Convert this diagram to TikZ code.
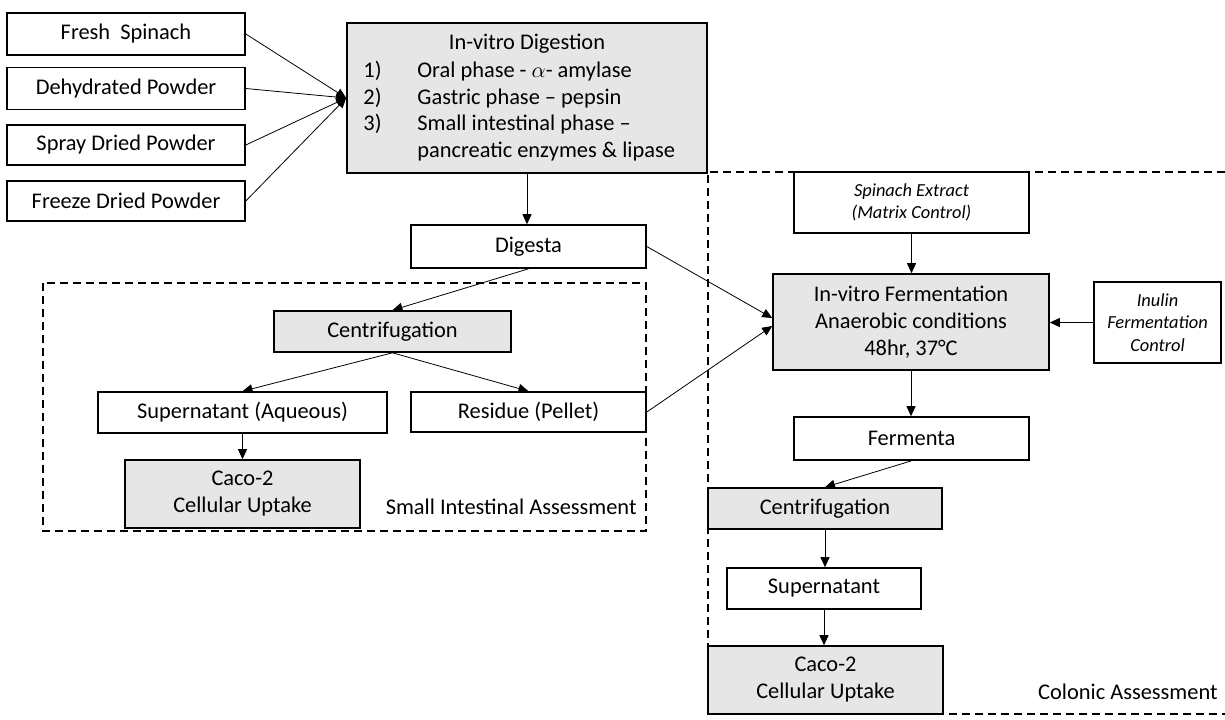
\documentclass[tikz,border=0pt]{standalone}
\usepackage{fontspec}
\setmainfont{Carlito}
\usepackage{amsmath}
\usetikzlibrary{arrows.meta}
\definecolor{boxgray}{HTML}{E6E6E6}

\begin{document}
\begin{tikzpicture}[x=0.5pt,y=-0.5pt,
  font=\fontsize{11.2}{13.5}\selectfont,
  plainbox/.style={draw,line width=0.8pt,inner sep=0pt,align=center},
  graybox/.style={plainbox,fill=boxgray},
  ctrlbox/.style={plainbox,font=\itshape\fontsize{9.2}{11.25}\selectfont},
  link/.style={-{Triangle[length=5pt,width=4.5pt]},line width=0.4pt},
  region/.style={dash pattern=on 4pt off 2.5pt,line width=0.8pt}]
  \useasboundingbox (0,0) rectangle (1225,719);

  % assessment regions
  \draw[region] (43,283) rectangle (646,531);
  \draw[region] (1225,172) -- (708,172) -- (708,714) -- (1225,714);
  \node[anchor=base east,inner sep=0pt] (silabel) at (637,514) {Small Intestinal Assessment};
  \node[anchor=base east,inner sep=0pt] (colabel) at (1218,699) {Colonic Assessment};

  % samples
  \node[plainbox,minimum width=119pt,minimum height=21pt] (fresh) at (126,34) {Fresh~ Spinach};
  \node[plainbox,minimum width=119pt,minimum height=21pt] (dehyd) at (126,88.5) {Dehydrated Powder};
  \node[plainbox,minimum width=119pt,minimum height=20pt] (spray) at (126,145) {Spray Dried Powder};
  \node[plainbox,minimum width=119pt,minimum height=20pt] (freeze) at (126,201) {Freeze Dried Powder};

  % digestion
  \node[graybox,minimum width=180pt,minimum height=75pt] (digest) at (527,98) {};
  \node[anchor=base,inner sep=0pt] (dtitle) at (527,49) {In-vitro Digestion};
  \foreach \n/\y/\t in {1/77/{Oral phase - $\alpha$- amylase},2/104/{Gastric phase – pepsin},3/130/{Small intestinal phase –}} {
    \node[anchor=base west,inner sep=0pt] (dnum\n) at (363,\y) {\n)};
    \node[anchor=base west,inner sep=0pt] (dstep\n) at (417,\y) {\t};
  }
  \node[anchor=base west,inner sep=0pt] (dstep4) at (417,157) {pancreatic enzymes \& lipase};

  \node[plainbox,minimum width=117.5pt,minimum height=21.5pt] (digesta) at (528.5,246.5) {Digesta};

  % small intestinal branch
  \node[graybox,minimum width=118.5pt,minimum height=20.5pt] (centA) at (392.5,331.5) {Centrifugation};
  \node[plainbox,minimum width=144.5pt,minimum height=20.5pt] (superA) at (242.5,412.5) {Supernatant (Aqueous)};
  \node[plainbox,minimum width=117.5pt,minimum height=20pt] (residue) at (528.5,412) {Residue (Pellet)};
  \node[graybox,minimum width=117.5pt,minimum height=34pt] (cacoA) at (242.5,494) {Caco-2\\Cellular Uptake};

  % colonic branch
  \node[ctrlbox,minimum width=117.5pt,minimum height=30.5pt] (extract) at (911.5,202.5) {Spinach Extract\\(Matrix Control)};
  \node[graybox,minimum width=138pt,minimum height=48pt] (ferm) at (911,322) {In-vitro Fermentation\\Anaerobic conditions\\48hr, 37°C};
  \node[ctrlbox,minimum width=63.5pt,minimum height=40.5pt] (inulin) at (1157.5,322.5) {Inulin\\Fermentation\\Control};
  \node[plainbox,minimum width=117.5pt,minimum height=21.5pt] (fermenta) at (911.5,438.5) {Fermenta};
  \node[graybox,minimum width=117pt,minimum height=20.5pt] (centB) at (825,508.5) {Centrifugation};
  \node[plainbox,minimum width=97pt,minimum height=20.5pt] (superB) at (824,588.5) {Supernatant};
  \node[graybox,minimum width=117.5pt,minimum height=34pt] (cacoB) at (825.5,680) {Caco-2\\Cellular Uptake};

  % connectors
  \foreach \s in {fresh,dehyd,spray,freeze}
    \draw[link] (\s.east) -- (digest.west);
  \draw[link] (digest.south) -- (digest.south |- digesta.north);
  \draw[link] (digesta.south) -- (centA.north);
  \draw[link] (centA.south) -- (superA.north);
  \draw[link] (centA.south) -- (residue.north);
  \draw[link] (superA.south) -- (cacoA.north);
  \draw[link] (digesta.east) -- ([yshift=2pt]ferm.west);
  \draw[link] (residue.east) -- ([yshift=-2pt]ferm.west);
  \draw[link] (extract.south) -- (extract.south |- ferm.north);
  \draw[link] (inulin.west) -- (inulin.west -| ferm.east);
  \draw[link] (ferm.south) -- (ferm.south |- fermenta.north);
  \draw[link] (fermenta.south) -- (centB.north);
  \draw[link] (centB.south) -- (centB.south |- superB.north);
  \draw[link] (superB.south) -- (superB.south |- cacoB.north);
\end{tikzpicture}
\end{document}
